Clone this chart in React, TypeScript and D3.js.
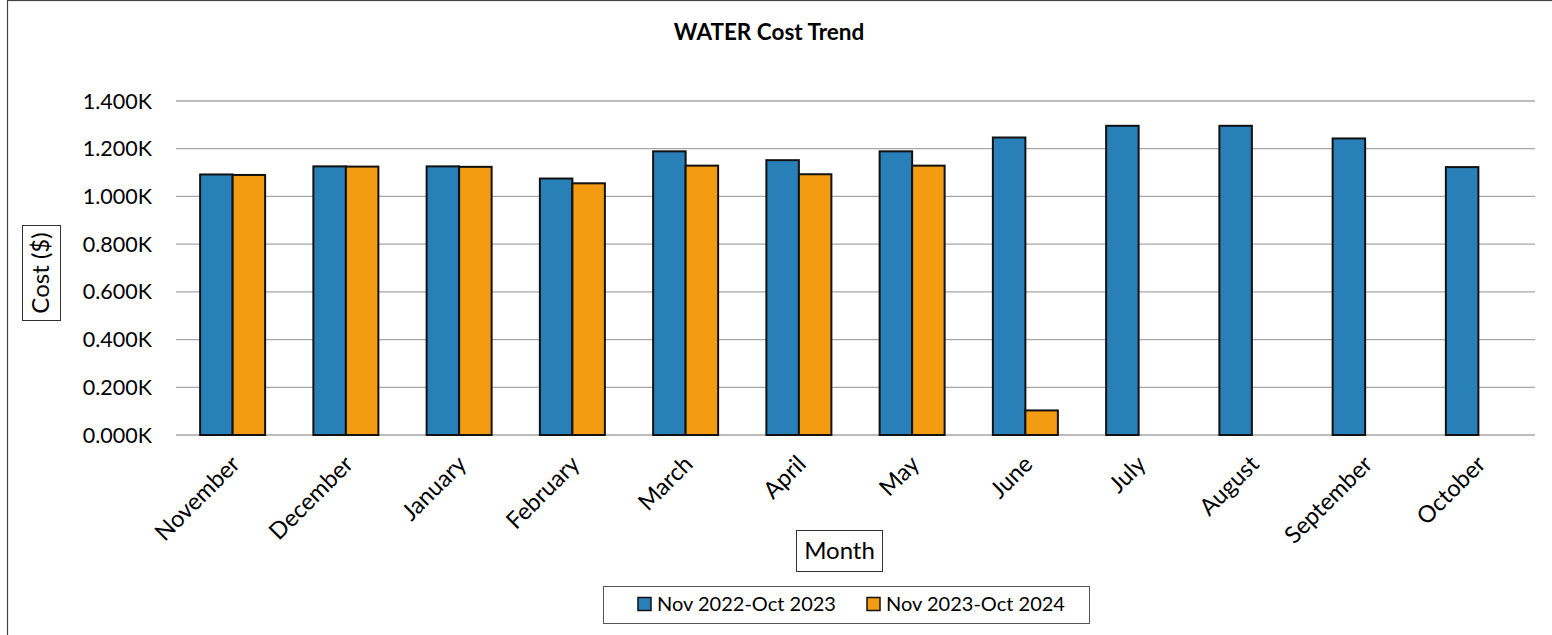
import React from "react";
import * as d3 from "d3";

const width = 1552;
const height = 635;
const margin = { top: 101, right: 17, bottom: 200, left: 176 };

// values in thousands of dollars
const months = ["November", "December", "January", "February", "March", "April", "May", "June", "July", "August", "September", "October"];
const series = ["Nov 2022-Oct 2023", "Nov 2023-Oct 2024"];
const cost2023 = [1.092, 1.126, 1.126, 1.075, 1.189, 1.152, 1.189, 1.247, 1.296, 1.296, 1.243, 1.123];
const cost2024 = [1.09, 1.125, 1.124, 1.055, 1.129, 1.093, 1.129, 0.103, null, null, null, null];
const yTicks = [0, 0.2, 0.4, 0.6, 0.8, 1.0, 1.2, 1.4];
const colors = ["#2980b9", "#f39c12"];

const font = "Lato, 'Open Sans', sans-serif";

export default function App() {
  const x = d3.scaleBand<string>()
    .domain(months)
    .range([margin.left, width - margin.right]);

  const step = x.step();
  const groupW = step * 0.574;
  const x1 = d3.scaleBand<string>()
    .domain(series)
    .range([(step - groupW) / 2, (step + groupW) / 2]);

  const y = d3.scaleLinear()
    .domain([0, 1.4])
    .range([height - margin.bottom, margin.top]);

  const fmt = (v: number) => d3.format(".3f")(v) + "K";
  const values = [cost2023, cost2024];

  return (
    <svg width={width} height={height} style={{ position: "absolute", left: 0, top: 0, background: "#fff" }} fontFamily={font}>
      {/* chart frame, cut off at the right and bottom */}
      <rect x={7.5} y={0.5} width={width + 20} height={height + 20} fill="none" stroke="#444" strokeWidth={1.2} />

      <text x={769} y={40} textAnchor="middle" fontSize={22.5} fontWeight="bold">WATER Cost Trend</text>

      {yTicks.map(t => (
        <g key={t}>
          <line x1={x.range()[0]} x2={x.range()[1]} y1={y(t)} y2={y(t)} stroke="#a6a6a6" strokeWidth={1.3} />
          <text x={152} y={y(t)} dy="0.35em" textAnchor="end" fontSize={21.5}>{fmt(t)}</text>
        </g>
      ))}

      {months.map((m, i) => (
        <g key={m} transform={`translate(${x(m)},0)`}>
          {values.map((vals, s) => vals[i] == null ? null : (
            <rect key={s}
              x={x1(series[s])}
              y={y(vals[i] as number)}
              width={x1.bandwidth()}
              height={y(0) - y(vals[i] as number)}
              fill={colors[s]} stroke="#111" strokeWidth={2} />
          ))}
          <text transform={`translate(${step / 2 - 3},${y(0) + 19}) rotate(-45)`} dy="0.7em"
            textAnchor="end" fontSize={23.5}>{m}</text>
        </g>
      ))}

      <rect x={22.5} y={225.5} width={38} height={95} fill="#fff" stroke="#333" />
      <text transform={`translate(49,273) rotate(-90)`} textAnchor="middle" fontSize={24}>Cost ($)</text>

      <rect x={796.5} y={530.5} width={86} height={41} fill="#fff" stroke="#333" />
      <text x={839.5} y={559} textAnchor="middle" fontSize={24}>Month</text>

      <rect x={603.5} y={586.5} width={486} height={37} fill="#fff" stroke="#555" />
      {series.map((s, i) => (
        <g key={s} transform={`translate(${[638, 867][i]},597.5)`}>
          <rect width={13} height={13} fill={colors[i]} stroke="#111" strokeWidth={1.5} />
          <text x={19} y={13.5} fontSize={20}>{s}</text>
        </g>
      ))}
    </svg>
  );
}
